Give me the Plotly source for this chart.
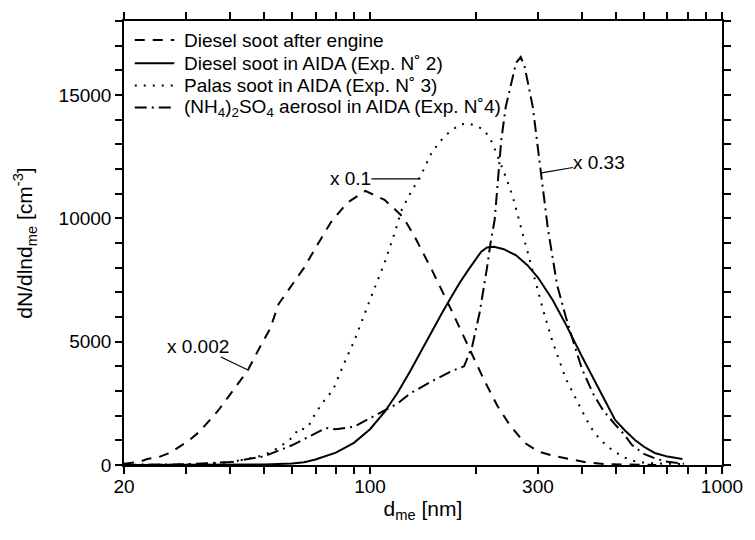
import math
import plotly.graph_objects as go

# Diesel soot after engine (x 0.002)
engine_x = [20, 22, 23.3, 25.2, 27, 28.7, 30.7, 32.7, 35, 37, 41, 45, 48, 52, 55, 60, 65, 70, 77.5, 86, 97, 110, 124, 134, 150, 170, 190, 210, 230, 250, 275, 300, 330, 360, 410, 470, 550, 650]
engine_y = [50, 120, 240, 330, 490, 730, 1010, 1340, 1800, 2200, 3060, 3850, 4620, 5520, 6530, 7300, 8000, 8800, 9850, 10620, 11110, 10750, 10060, 9250, 7900, 6300, 4800, 3500, 2400, 1600, 900, 550, 380, 280, 110, 30, 5, 0]

# Diesel soot in AIDA (Exp. N° 2)
diesel_x = [20, 30, 40, 50, 60, 65, 70, 80, 90, 100, 110, 120, 130, 140, 150, 160, 170, 180, 190, 200, 207, 215, 225, 240, 260, 280, 300, 330, 360, 400, 450, 497, 530, 566, 600, 644, 700, 772]
diesel_y = [0, 0, 5, 20, 60, 110, 220, 500, 900, 1450, 2150, 2950, 3800, 4650, 5450, 6150, 6800, 7400, 7900, 8350, 8650, 8820, 8850, 8750, 8500, 8100, 7600, 6700, 5700, 4400, 3000, 1825, 1400, 1014, 740, 487, 340, 243]

# Palas soot in AIDA (Exp. N° 3) (x 0.1)
palas_x = [20, 30, 40, 50, 55, 60, 63, 65, 67, 70, 74, 78.5, 84, 90, 100, 110, 117, 123, 130, 139, 150, 160, 168, 180, 190, 200, 211, 220, 228, 243, 255, 273, 290, 310, 330, 360, 400, 423, 451, 488, 523, 573, 650, 772]
palas_y = [0, 20, 100, 400, 700, 1100, 1500, 1450, 1600, 2100, 2600, 3040, 4055, 5000, 6700, 8200, 9330, 10340, 11000, 11700, 12690, 13200, 13500, 13800, 13850, 13750, 13580, 13200, 12690, 11680, 10830, 9250, 7800, 6300, 5000, 3500, 2200, 1540, 1014, 608, 324, 120, 60, 40]

# (NH4)2SO4 aerosol in AIDA (Exp. N°4) (x 0.33)
amsul_x = [20, 30, 40, 50, 60, 70, 75, 80, 90, 100, 110, 120, 130, 150, 170, 185, 195, 205, 215, 220, 226, 231, 236, 243, 250, 260, 268, 275, 290, 298, 307, 320, 340, 360, 380, 400, 430, 460, 500, 529, 555, 600, 650, 700, 780]
amsul_y = [0, 30, 120, 350, 800, 1300, 1500, 1450, 1550, 1900, 2200, 2500, 2900, 3400, 3800, 4000, 4800, 6200, 8000, 9000, 9935, 11560, 13180, 14520, 15300, 16300, 16540, 16150, 14520, 13180, 11840, 9600, 7300, 6000, 4900, 3900, 2900, 2200, 1600, 1216, 811, 450, 250, 130, 50]

series_names = [
    "Diesel soot after engine",
    "Diesel soot in AIDA (Exp. N\u02da 2)",
    "Palas soot in AIDA (Exp. N\u02da 3)",
    "(NH<sub>4</sub>)<sub>2</sub>SO<sub>4</sub> aerosol in AIDA (Exp. N\u02da4)",
]

x_major = [20, 100, 300, 1000]
x_major_text = ["20", "100", "300", "1000"]
x_minor = [30, 40, 50, 60, 70, 80, 90, 200, 400, 500, 600, 700, 800, 900]
y_major = [0, 5000, 10000, 15000]
y_minor = [1000, 2000, 3000, 4000, 6000, 7000, 8000, 9000, 11000, 12000, 13000, 14000, 16000, 17000, 18000]
x_lo, x_hi = 20, 1000
y_lo, y_hi = 0, 18000

# annotation labels: (text, x point, y point, ax, ay)
labels = [
    ("x 0.002", 45, 3850, -50, -24),
    ("x 0.1", 139, 11600, -70, 0),
    ("x 0.33", 307, 11840, 58, -10),
]

FONT = "Liberation Sans"
fig = go.Figure()
styles = ["10px,8px", "solid", "2px,7px", "12px,5px,2px,5px"]
data = [(engine_x, engine_y), (diesel_x, diesel_y), (palas_x, palas_y), (amsul_x, amsul_y)]
for (xs, ys), name, dash in zip(data, series_names, styles):
    fig.add_trace(go.Scatter(x=xs, y=ys, mode="lines", name=name, showlegend=False,
                             line=dict(color="black", width=2, dash=dash)))

for text, px, py, ax, ay in labels:
    fig.add_annotation(x=math.log10(px), y=py, xref="x", yref="y", text=text,
                       showarrow=True, arrowhead=0, arrowwidth=1.2, arrowcolor="black",
                       ax=ax, ay=ay, font=dict(size=19, color="black", family=FONT),
                       standoff=0, borderpad=0)

# legend drawn as line samples + text in the upper-left corner of the plot area
leg_rows = [0.957, 0.905, 0.855, 0.805]
for name, dash, ry in zip(series_names, styles, leg_rows):
    fig.add_shape(type="line", xref="paper", yref="paper", x0=0.018, x1=0.084, y0=ry, y1=ry,
                  line=dict(color="black", width=2, dash=dash))
    fig.add_annotation(xref="paper", yref="paper", x=0.097, y=ry, xanchor="left", yanchor="middle",
                       text=name, showarrow=False, font=dict(size=19, color="black", family=FONT))

# all ticks (major labelled, minor blank) drawn by the axes themselves, mirrored to top/right
x_ticks = sorted(x_major + x_minor)
x_text = [x_major_text[x_major.index(v)] if v in x_major else "" for v in x_ticks]
y_ticks = sorted(y_major + y_minor)
y_text = [str(v) if v in y_major else "" for v in y_ticks]

tick_font = dict(size=19, color="black", family=FONT)

fig.update_layout(
    width=755, height=540,
    margin=dict(l=124, r=26, t=21, b=75),
    paper_bgcolor="white", plot_bgcolor="white",
    font=dict(family=FONT, color="black"),
    showlegend=False,
    xaxis=dict(type="log", range=[math.log10(x_lo), math.log10(x_hi)], tickmode="array",
               tickvals=x_ticks, ticktext=x_text,
               showline=True, linecolor="black", linewidth=1.5, mirror="ticks",
               ticks="outside", ticklen=7, tickwidth=1.5, tickcolor="black",
               showgrid=False, zeroline=False, tickfont=tick_font, ticklabelstandoff=-4,
               title=dict(text="d<sub>me</sub> [nm]", font=dict(size=21, color="black", family=FONT), standoff=4)),
    yaxis=dict(range=[y_lo, y_hi], tickmode="array", tickvals=y_ticks, ticktext=y_text,
               showline=True, linecolor="black", linewidth=1.5, mirror="ticks",
               ticks="outside", ticklen=7, tickwidth=1.5, tickcolor="black",
               showgrid=False, zeroline=False, tickfont=tick_font,
               title=dict(text="dN/dlnd<sub>me</sub> [cm<sup>-3</sup>]", font=dict(size=21, color="black", family=FONT), standoff=20)),
)

fig.write_html("out.html", config={"displayModeBar": False},
               post_script="document.body.style.margin='0';")
